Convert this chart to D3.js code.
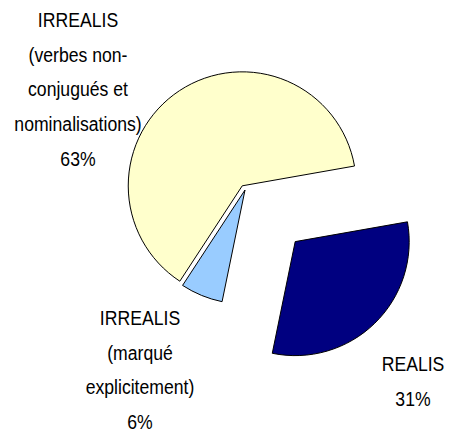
<!DOCTYPE html>
<html>
<head>
<meta charset="utf-8">
<script src="https://cdn.jsdelivr.net/npm/d3@7"></script>
<style>
  body { margin: 0; background: #fff; }
  .lbl { font-family: "Liberation Sans", Arial, sans-serif; font-size: 21px; fill: #000; }
</style>
</head>
<body>
<svg id="chart" width="450" height="434"></svg>
<script>
// data
var categories = ["REALIS", "IRREALIS (marqué explicitement)", "IRREALIS (verbes non-conjugués et nominalisations)"];
var values = [31, 6, 63];
var labelLines = [
    ["REALIS"],
    ["IRREALIS", "(marqué", "explicitement)"],
    ["IRREALIS", "(verbes non-", "conjugués et", "nominalisations)"]
];

// style
var colors = ["#000080", "#99CCFF", "#FFFFCC"];
var explode = [72, 0, 5];
var labelPos = [[413, 371], [140, 325], [78, 27]];
var lineHeight = 34.7;
var narrow = 0.84; // no Arial Narrow here, squeeze Liberation Sans instead

var svg = d3.select("#chart");
var cx = 245, cy = 190, radius = 114;
var startAngle = 80 * Math.PI / 180;

var pie = d3.pie()
        .sort(null)
        .value(function (d) { return d; })
        .startAngle(startAngle)
        .endAngle(startAngle + 2 * Math.PI);

var arc = d3.arc().innerRadius(0).outerRadius(radius);

var arcs = pie(values);

var g = svg.append("g").attr("transform", "translate(" + cx + "," + cy + ")");

g.selectAll("path.slice")
        .data(arcs)
        .enter()
        .append("path")
        .attr("class", "slice")
        .attr("d", arc)
        .attr("fill", function (d, i) { return colors[i]; })
        .attr("stroke", "#000")
        .attr("stroke-width", 1)
        .attr("transform", function (d, i) {
            var mid = (d.startAngle + d.endAngle) / 2;
            return "translate(" + (Math.sin(mid) * explode[i]) + "," + (-Math.cos(mid) * explode[i]) + ")";
        });

var total = d3.sum(values);

labelLines.forEach(function (lines, i) {
    var all = lines.concat([Math.round(values[i] / total * 100) + "%"]);
    var t = svg.append("text")
            .attr("class", "lbl")
            .attr("text-anchor", "middle")
            .attr("transform", "translate(" + labelPos[i][0] + "," + labelPos[i][1] + ") scale(" + narrow + ",1)");
    t.selectAll("tspan")
            .data(all)
            .enter()
            .append("tspan")
            .attr("x", 0)
            .attr("y", function (d, k) { return k * lineHeight; })
            .text(function (d) { return d; });
});
</script>
</body>
</html>
